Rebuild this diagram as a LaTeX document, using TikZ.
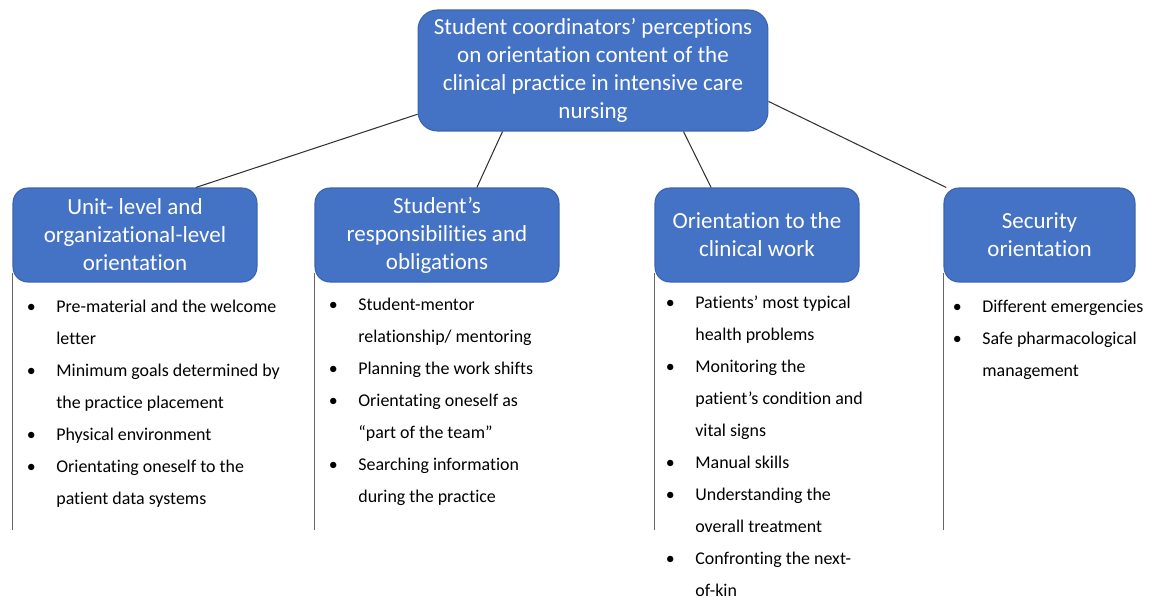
\documentclass[tikz,border=0pt]{standalone}
\usepackage{fontspec}
\setmainfont{Carlito}[Ligatures=NoCommon]
\usepackage{tikz}
\usetikzlibrary{positioning}
\definecolor{boxblue}{HTML}{4472C4}
\definecolor{boxedge}{HTML}{3A63AE}
\newcommand{\bl}{\llap{\makebox[0pt]{\textbullet}\hspace{14.2pt}}}

\begin{document}
\begin{tikzpicture}[x=0.02cm, y=-0.02cm,
    topic/.style={draw=boxedge, line width=0.6pt, fill=boxblue, text=white,
        rounded corners=8.5pt, align=center, inner sep=0pt,
        font=\fontsize{13.1}{15.9}\selectfont},
    items/.style={anchor=north west, inner sep=0pt,
        font=\fontsize{10.2}{18.2}\selectfont},
    link/.style={black!80, line width=0.6pt},
    rail/.style={black!60, line width=0.9pt}]
    \useasboundingbox (0,0) rectangle (1157,602);
    \node[topic, minimum width=7cm, minimum height=2.42cm, rounded corners=11pt] (main) at (593,70.5)
        {Student coordinators’ perceptions\\on orientation content of the\\clinical practice in intensive care\\nursing};
    \node[topic, minimum width=4.88cm, minimum height=1.88cm] (unit) at (135,235)
        {Unit- level and\\organizational-level\\orientation};
    \node[topic, minimum width=4.88cm, minimum height=1.88cm] (duty) at (437,235)
        {Student’s\\responsibilities and\\obligations};
    \node[topic, minimum width=4.08cm, minimum height=1.88cm] (work) at (757,235)
        {Orientation to the\\clinical work};
    \node[topic, minimum width=3.82cm, minimum height=1.88cm] (safe) at (1039.5,235)
        {Security\\orientation};
    \draw[link] (main.194) -- (unit.38);
    \draw[link] (main.214) -- (duty.50);
    \draw[link] (main.-34) -- (work.134);
    \draw[link] (main.-10) -- (safe.153);
    \foreach \b in {unit,duty,work,safe}{
        \draw[rail] ([yshift=0.2cm]\b.south west) -- (\b.west |- 0,530);
    }
    \node[items] (unitlist) at (56,290) {\begin{tabular}{@{}l@{}}
        \bl Pre-material and the welcome\\letter\\
        \bl Minimum goals determined by\\the practice placement\\
        \bl Physical environment\\
        \bl Orientating oneself to the\\patient data systems
        \end{tabular}};
    \node[items] (dutylist) at (358,288) {\begin{tabular}{@{}l@{}}
        \bl Student-mentor\\relationship/ mentoring\\
        \bl Planning the work shifts\\
        \bl Orientating oneself as\\“part of the team”\\
        \bl Searching information\\during the practice
        \end{tabular}};
    \node[items] (worklist) at (695,286) {\begin{tabular}{@{}l@{}}
        \bl Patients’ most typical\\health problems\\
        \bl Monitoring the\\patient’s condition and\\vital signs\\
        \bl Manual skills\\
        \bl Understanding the\\overall treatment\\
        \bl Confronting the next-\\of-kin
        \end{tabular}};
    \node[items] (safelist) at (982,290) {\begin{tabular}{@{}l@{}}
        \bl Different emergencies\\
        \bl Safe pharmacological\\management
        \end{tabular}};
\end{tikzpicture}
\end{document}
